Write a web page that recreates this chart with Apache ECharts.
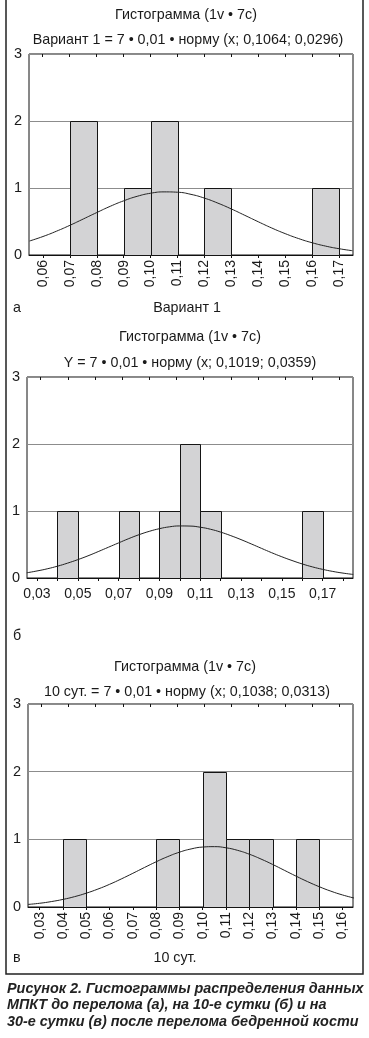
<!DOCTYPE html>
<html>
<head>
<meta charset="utf-8">
<script src="https://cdn.jsdelivr.net/npm/echarts@6/dist/echarts.min.js"></script>
<style>
html,body{margin:0;padding:0;background:#fff;}
#chart{width:369px;height:1038px;}
</style>
</head>
<body>
<div id="chart"></div>
<script>
// ---------- DATA ----------
// Histogram bins: [start, end, count]
const bins1 = [[0.07,0.08,2],[0.09,0.10,1],[0.10,0.11,2],[0.12,0.13,1],[0.16,0.17,1]];
const bins2 = [[0.04,0.05,1],[0.07,0.08,1],[0.09,0.10,1],[0.10,0.11,2],[0.11,0.12,1],[0.16,0.17,1]];
const bins3 = [[0.04,0.05,1],[0.08,0.09,1],[0.10,0.11,2],[0.11,0.12,1],[0.12,0.13,1],[0.14,0.15,1]];

// Fitted normal curves
const curveX1 = [0.055,0.060,0.065,0.070,0.075,0.080,0.085,0.090,0.095,0.100,0.105,0.110,0.115,0.120,0.125,0.130,0.135,0.140,0.145,0.150,0.155,0.160,0.165,0.170,0.175];
const curveY1 = [0.209,0.276,0.355,0.443,0.538,0.634,0.727,0.809,0.876,0.922,0.942,0.937,0.905,0.849,0.774,0.687,0.592,0.496,0.403,0.319,0.245,0.183,0.133,0.094,0.064];
const curveX2 = [0.025,0.030,0.035,0.040,0.045,0.050,0.055,0.060,0.065,0.070,0.075,0.080,0.085,0.090,0.095,0.100,0.105,0.110,0.115,0.120,0.125,0.130,0.135,0.140,0.145,0.150,0.155,0.160,0.165,0.170,0.175,0.180,0.185];
const curveY2 = [0.078,0.105,0.137,0.176,0.222,0.274,0.331,0.394,0.459,0.524,0.588,0.646,0.696,0.736,0.764,0.777,0.775,0.758,0.728,0.685,0.632,0.573,0.509,0.443,0.378,0.317,0.261,0.210,0.166,0.129,0.098,0.073,0.053];
const curveX3 = [0.025,0.030,0.035,0.040,0.045,0.050,0.055,0.060,0.065,0.070,0.075,0.080,0.085,0.090,0.095,0.100,0.105,0.110,0.115,0.120,0.125,0.130,0.135,0.140,0.145,0.150,0.155,0.160,0.165];
const curveY3 = [0.038,0.055,0.080,0.112,0.153,0.204,0.265,0.335,0.414,0.498,0.584,0.668,0.745,0.810,0.858,0.886,0.892,0.875,0.837,0.780,0.709,0.629,0.543,0.457,0.375,0.300,0.234,0.178,0.132];

// Axis ticks / labels
const xTicks1 = [0.06,0.07,0.08,0.09,0.10,0.11,0.12,0.13,0.14,0.15,0.16,0.17];
const xLabels1 = [0.06,0.07,0.08,0.09,0.10,0.11,0.12,0.13,0.14,0.15,0.16,0.17];
const xTicks2 = [0.03,0.04,0.05,0.06,0.07,0.08,0.09,0.10,0.11,0.12,0.13,0.14,0.15,0.16,0.17,0.18];
const xLabels2 = [0.03,0.05,0.07,0.09,0.11,0.13,0.15,0.17];
const xTicks3 = [0.03,0.04,0.05,0.06,0.07,0.08,0.09,0.10,0.11,0.12,0.13,0.14,0.15,0.16];
const xLabels3 = [0.03,0.04,0.05,0.06,0.07,0.08,0.09,0.10,0.11,0.12,0.13,0.14,0.15,0.16];
const yTicks = [0,1,2,3];
const topTickSlots = ['1','2','3','4','5','6','7','8','9','10','11','12'];

// Texts
const histTitle = 'Гистограмма (1v • 7c)';
const subTitle1 = 'Вариант 1 = 7 • 0,01 • норму (x; 0,1064; 0,0296)';
const subTitle2 = 'Y = 7 • 0,01 • норму (x; 0,1019; 0,0359)';
const subTitle3 = '10 сут. = 7 • 0,01 • норму (x; 0,1038; 0,0313)';
const xName1 = 'Вариант 1';
const xName3 = '10 сут.';
const panelLetters = ['а','б','в'];
const captionLines = [
  'Рисунок 2. Гистограммы распределения данных',
  'МПКТ до перелома (а), на 10-е сутки (б) и на',
  '30-е сутки (в) после перелома бедренной кости'
];

// ---------- CHART ----------
const FONT = '"Liberation Sans", Arial, Helvetica, sans-serif';
const TXT = '#1a1a1a';
const fmt = v => Number(v).toFixed(2).replace('.', ',');

const grids = [
  {left:29, right:16, top:54, height:201},
  {left:27, right:16, top:377, height:201},
  {left:28, right:16, top:704, height:203}
].map(g => Object.assign({show:true, borderColor:'#111', borderWidth:1, backgroundColor:'transparent'}, g));

function bottomAxis(gi, min, max, ticks, labels, rotate, margin) {
  return {
    type:'value', gridIndex:gi, position:'bottom', min:min, max:max,
    axisLine:{show:true, lineStyle:{color:'#111', width:1}},
    axisTick:{show:true, customValues:ticks, length:3, lineStyle:{color:'#111'}},
    axisLabel:{customValues:labels, formatter:fmt, rotate:rotate, margin:margin,
      fontSize:14, color:TXT, fontFamily:FONT},
    splitLine:{show:false}
  };
}
function topAxis(gi) {
  return {
    type:'category', gridIndex:gi, position:'top', data:topTickSlots, boundaryGap:true,
    axisLine:{show:false},
    axisTick:{show:true, inside:true, alignWithLabel:true, length:3, lineStyle:{color:'#111'}},
    axisLabel:{show:false}, splitLine:{show:false}
  };
}
function yAxis(gi) {
  return {
    type:'value', gridIndex:gi, min:0, max:3, interval:1,
    axisLine:{show:false}, axisTick:{show:false},
    axisLabel:{customValues:yTicks, fontSize:14.5, color:TXT, fontFamily:FONT, margin:7},
    splitLine:{show:true, lineStyle:{color:'#8c8c8c', width:1}}
  };
}

function renderBin(params, api) {
  const p0 = api.coord([api.value(0), api.value(2)]);
  const p1 = api.coord([api.value(1), 0]);
  const x0 = Math.round(p0[0]) + 0.5, x1 = Math.round(p1[0]) + 0.5;
  const y0 = Math.round(p0[1]) + 0.5, y1 = Math.round(p1[1]) + 0.5;
  return {type:'rect', shape:{x:x0, y:y0, width:x1-x0, height:y1-y0},
    style:{fill:'#d3d3d5', stroke:'#151515', lineWidth:1}};
}
function binSeries(i, bins) {
  return {type:'custom', xAxisIndex:i, yAxisIndex:i, renderItem:renderBin,
    encode:{x:[0,1], y:2}, data:bins, z:2, silent:true};
}
function curveSeries(i, xs, ys) {
  return {type:'line', xAxisIndex:i, yAxisIndex:i, data:xs.map((x,k)=>[x, ys[k]]),
    smooth:true, showSymbol:false, symbol:'none', clip:true, z:3, silent:true,
    lineStyle:{color:'#222', width:1}};
}

function txt(x, y, text, opts) {
  return {type:'text', x:x, y:y, silent:true,
    style:Object.assign({text:text, fill:TXT, font:'14.3px ' + FONT, textAlign:'center', textVerticalAlign:'middle'}, opts || {})};
}

const graphics = [
  {type:'rect', shape:{x:6, y:-2, width:357, height:976}, style:{fill:'none', stroke:'#222', lineWidth:1.5}, silent:true},
  txt(186, 15, histTitle),
  txt(188, 40, subTitle1),
  txt(13, 308, panelLetters[0], {textAlign:'left'}),
  txt(187, 308, xName1),
  txt(190, 337, histTitle),
  txt(190, 363, subTitle2),
  txt(13, 636, panelLetters[1], {textAlign:'left'}),
  txt(185, 667, histTitle),
  txt(187, 692, subTitle3),
  txt(13, 958, panelLetters[2], {textAlign:'left'}),
  txt(175, 958, xName3)
];
captionLines.forEach((l, k) => {
  graphics.push(txt(7, 989 + k*16.5, l, {textAlign:'left', font:'italic bold 14.4px ' + FONT, fill:'#222'}));
});

const option = {
  animation:false,
  backgroundColor:'#fff',
  grid:grids,
  xAxis:[
    bottomAxis(0, 0.0548, 0.1752, xTicks1, xLabels1, 90, 5),
    bottomAxis(1, 0.0251, 0.1849, xTicks2, xLabels2, 0, 9),
    bottomAxis(2, 0.0250, 0.1645, xTicks3, xLabels3, 90, 5),
    topAxis(0), topAxis(1), topAxis(2)
  ],
  yAxis:[yAxis(0), yAxis(1), yAxis(2)],
  series:[
    binSeries(0, bins1), curveSeries(0, curveX1, curveY1),
    binSeries(1, bins2), curveSeries(1, curveX2, curveY2),
    binSeries(2, bins3), curveSeries(2, curveX3, curveY3)
  ],
  graphic:graphics
};

const chart = echarts.init(document.getElementById('chart'), null, {renderer:'canvas'});
chart.setOption(option);
</script>
</body>
</html>
